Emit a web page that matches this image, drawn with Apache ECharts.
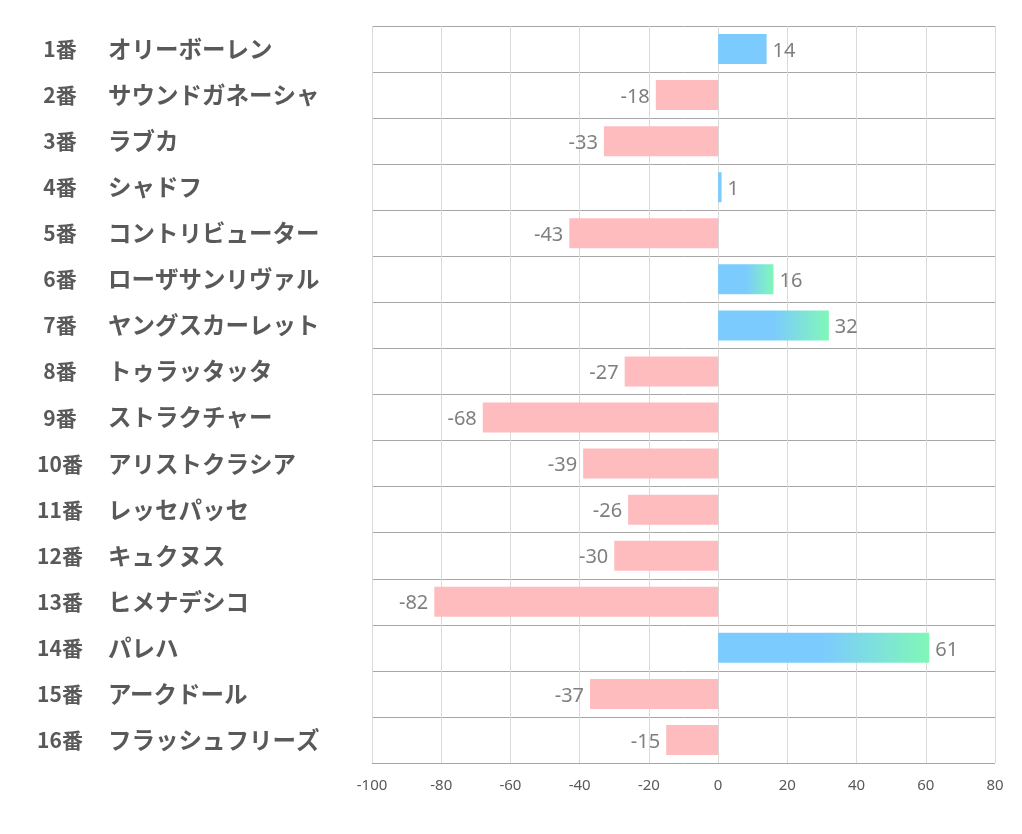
<!DOCTYPE html>
<html><head><meta charset="utf-8">
<script src="https://cdn.jsdelivr.net/npm/echarts@6/dist/echarts.min.js"></script>
<style>html,body{margin:0;padding:0;background:#fff}#c{width:1022px;height:834px}</style>
</head><body><div id="c"></div>
<script>
const numbers = ['1番','2番','3番','4番','5番','6番','7番','8番','9番','10番','11番','12番','13番','14番','15番','16番'];
const names = ['オリーボーレン','サウンドガネーシャ','ラブカ','シャドフ','コントリビューター','ローザサンリヴァル','ヤングスカーレット','トゥラッタッタ','ストラクチャー','アリストクラシア','レッセパッセ','キュクヌス','ヒメナデシコ','パレハ','アークドール','フラッシュフリーズ'];
const values = [14,-18,-33,1,-43,16,32,-27,-68,-39,-26,-30,-82,61,-37,-15];
const xTicks = [-100,-80,-60,-40,-20,0,20,40,60,80];

const BLUE = '#7ccbfe', GREEN = '#80f7b8', PINK = '#ffbcbf';
const cats = numbers.map((n,i)=>n+'|'+names[i]);
const data = values.map(v=>{
  let color;
  if (v < 0) color = PINK;
  else if (v < 15) color = BLUE;
  else color = new echarts.graphic.LinearGradient(0,0,1,0,[{offset:0,color:BLUE},{offset:0.5,color:BLUE},{offset:1,color:GREEN}]);
  return {value:v, itemStyle:{color}, label:{position: v<0?'left':'right'}};
});
const chart = echarts.init(document.getElementById('c'));
chart.setOption({
  animation:false,
  grid:{left:372,right:27,top:26,bottom:71},
  xAxis:{type:'value',min:-100,max:80,interval:20,
    axisLine:{show:false},axisTick:{show:false},
    splitLine:{lineStyle:{color:'#d9d9d9',width:1}},
    axisLabel:{color:'#595959',fontSize:15,margin:15,fontFamily:'Noto Sans',
      formatter:v=>xTicks.includes(v)?String(v):''}},
  yAxis:{type:'category',data:cats,inverse:true,
    axisLine:{show:false},axisTick:{show:false},
    splitLine:{show:true,interval:0,lineStyle:{color:'#a6a6a6',width:1}},
    axisLabel:{align:'left',margin:336,interval:0,
      formatter:s=>{const p=s.split('|');return '{a|'+p[0]+'}{b|'+p[1]+'}';},
      rich:{
        a:{width:48,align:'right',fontSize:21,fontWeight:'bold',color:'#595959',fontFamily:'Noto Sans CJK JP'},
        b:{padding:[0,0,0,24],fontSize:23.5,fontWeight:'bold',color:'#595959',fontFamily:'Noto Sans CJK JP'}
      }}},
  series:[{type:'bar',data:data,barWidth:30,
    label:{show:true,color:'#7f7f7f',fontSize:20,distance:6,offset:[0,2],fontFamily:'Noto Sans'}}]
});
</script></body></html>
